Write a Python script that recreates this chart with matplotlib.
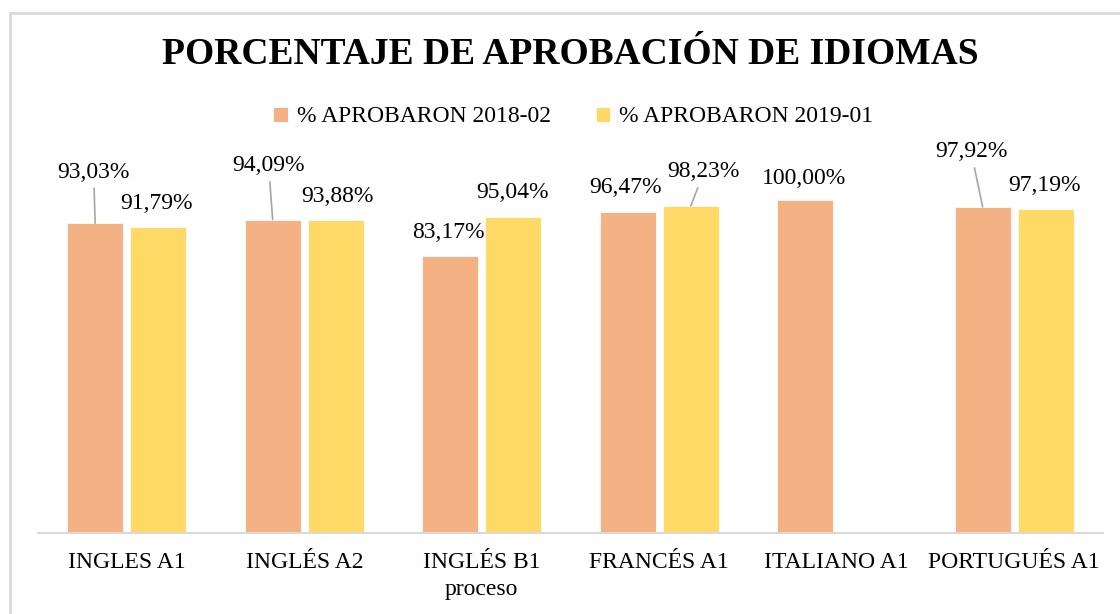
import numpy as np
import matplotlib
matplotlib.use('Agg')
import matplotlib.pyplot as plt
from matplotlib.patches import Rectangle

plt.rcParams['font.family'] = ['Liberation Serif', 'DejaVu Serif']

# Data
categorias = ['INGLES A1', 'INGLÉS A2', 'INGLÉS B1\nproceso', 'FRANCÉS A1', 'ITALIANO A1', 'PORTUGUÉS A1']
aprob_2018_02 = [93.03, 94.09, 83.17, 96.47, 100.00, 97.92]
aprob_2019_01 = [91.79, 93.88, 95.04, 98.23, np.nan, 97.19]
series_names = ['% APROBARON 2018-02', '% APROBARON 2019-01']

# label offsets (pixels, relative to bar top centre) and leader-line flags
off_2018 = [(-1.5, 51), (-4, 54), (-2, 24), (-2, 24), (-1, 22), (-11.5, 55)]
lead_2018 = [True, True, False, False, False, True]
off_2019 = [(-1.5, 24), (2, 24), (-1, 24), (13, 34), (0, 24), (-1.5, 24)]
lead_2019 = [False, False, False, True, False, False]

c_orange = '#F4B183'
c_yellow = '#FFD966'

fig = plt.figure(figsize=(11.2, 6.14), dpi=100)
ax = fig.add_axes([38 / 1120, 1 - 533 / 614, (1103 - 38) / 1120, 333 / 614])

x = np.arange(len(categorias))
w = 0.315
shift = 0.178
b1 = ax.bar(x - shift, aprob_2018_02, w, color=c_orange, edgecolor='white', linewidth=0.6, label=series_names[0])
b2 = ax.bar(x + shift, aprob_2019_01, w, color=c_yellow, edgecolor='white', linewidth=0.6, label=series_names[1])

px2pt = 72 / 100


def add_labels(xs, vals, offs, leads):
    for xi, v, (dx, dy), lead in zip(xs, vals, offs, leads):
        if np.isnan(v):
            continue
        txt = f'{v:.2f}%'.replace('.', ',')
        kw = {}
        if lead:
            kw['arrowprops'] = dict(arrowstyle='-', color='#A6A6A6', lw=1.2, shrinkA=2, shrinkB=0)
        ax.annotate(txt, xy=(xi, v), xytext=(dx * px2pt, dy * px2pt), textcoords='offset points',
                    ha='center', va='center', fontsize=17, color='black', annotation_clip=False, **kw)


add_labels(x - shift, aprob_2018_02, off_2018, lead_2018)
add_labels(x + shift, aprob_2019_01, off_2019, lead_2019)

ax.set_xlim(-0.5, len(categorias) - 0.5)
ax.set_ylim(0, 100)
ax.set_yticks([])
ax.set_xticks(x)
ax.set_xticklabels(categorias, fontsize=17, linespacing=1.35)
ax.tick_params(axis='x', length=0, pad=14)
for s in ['top', 'right', 'left']:
    ax.spines[s].set_visible(False)
ax.spines['bottom'].set_color('#D9D9D9')
ax.spines['bottom'].set_linewidth(1.5)

fig.text(0.509, 1 - 55 / 614, 'PORCENTAJE DE APROBACIÓN DE IDIOMAS', ha='center', va='center',
         fontsize=27, fontweight='bold')

fig.legend(handles=[b1, b2], labels=series_names, loc='center', bbox_to_anchor=(0.512, 1 - 117 / 614),
           ncol=2, frameon=False, fontsize=17, handlelength=0.6, handleheight=0.6,
           handletextpad=0.4, columnspacing=1.9)

# outer chart frame
fig.patches.append(Rectangle((9.5 / 1120, -0.1), 1.2, 1 - 13 / 614 + 0.1, transform=fig.transFigure,
                             fill=False, edgecolor='#D9D9D9', linewidth=2))

fig.savefig('out.png', dpi=100)
